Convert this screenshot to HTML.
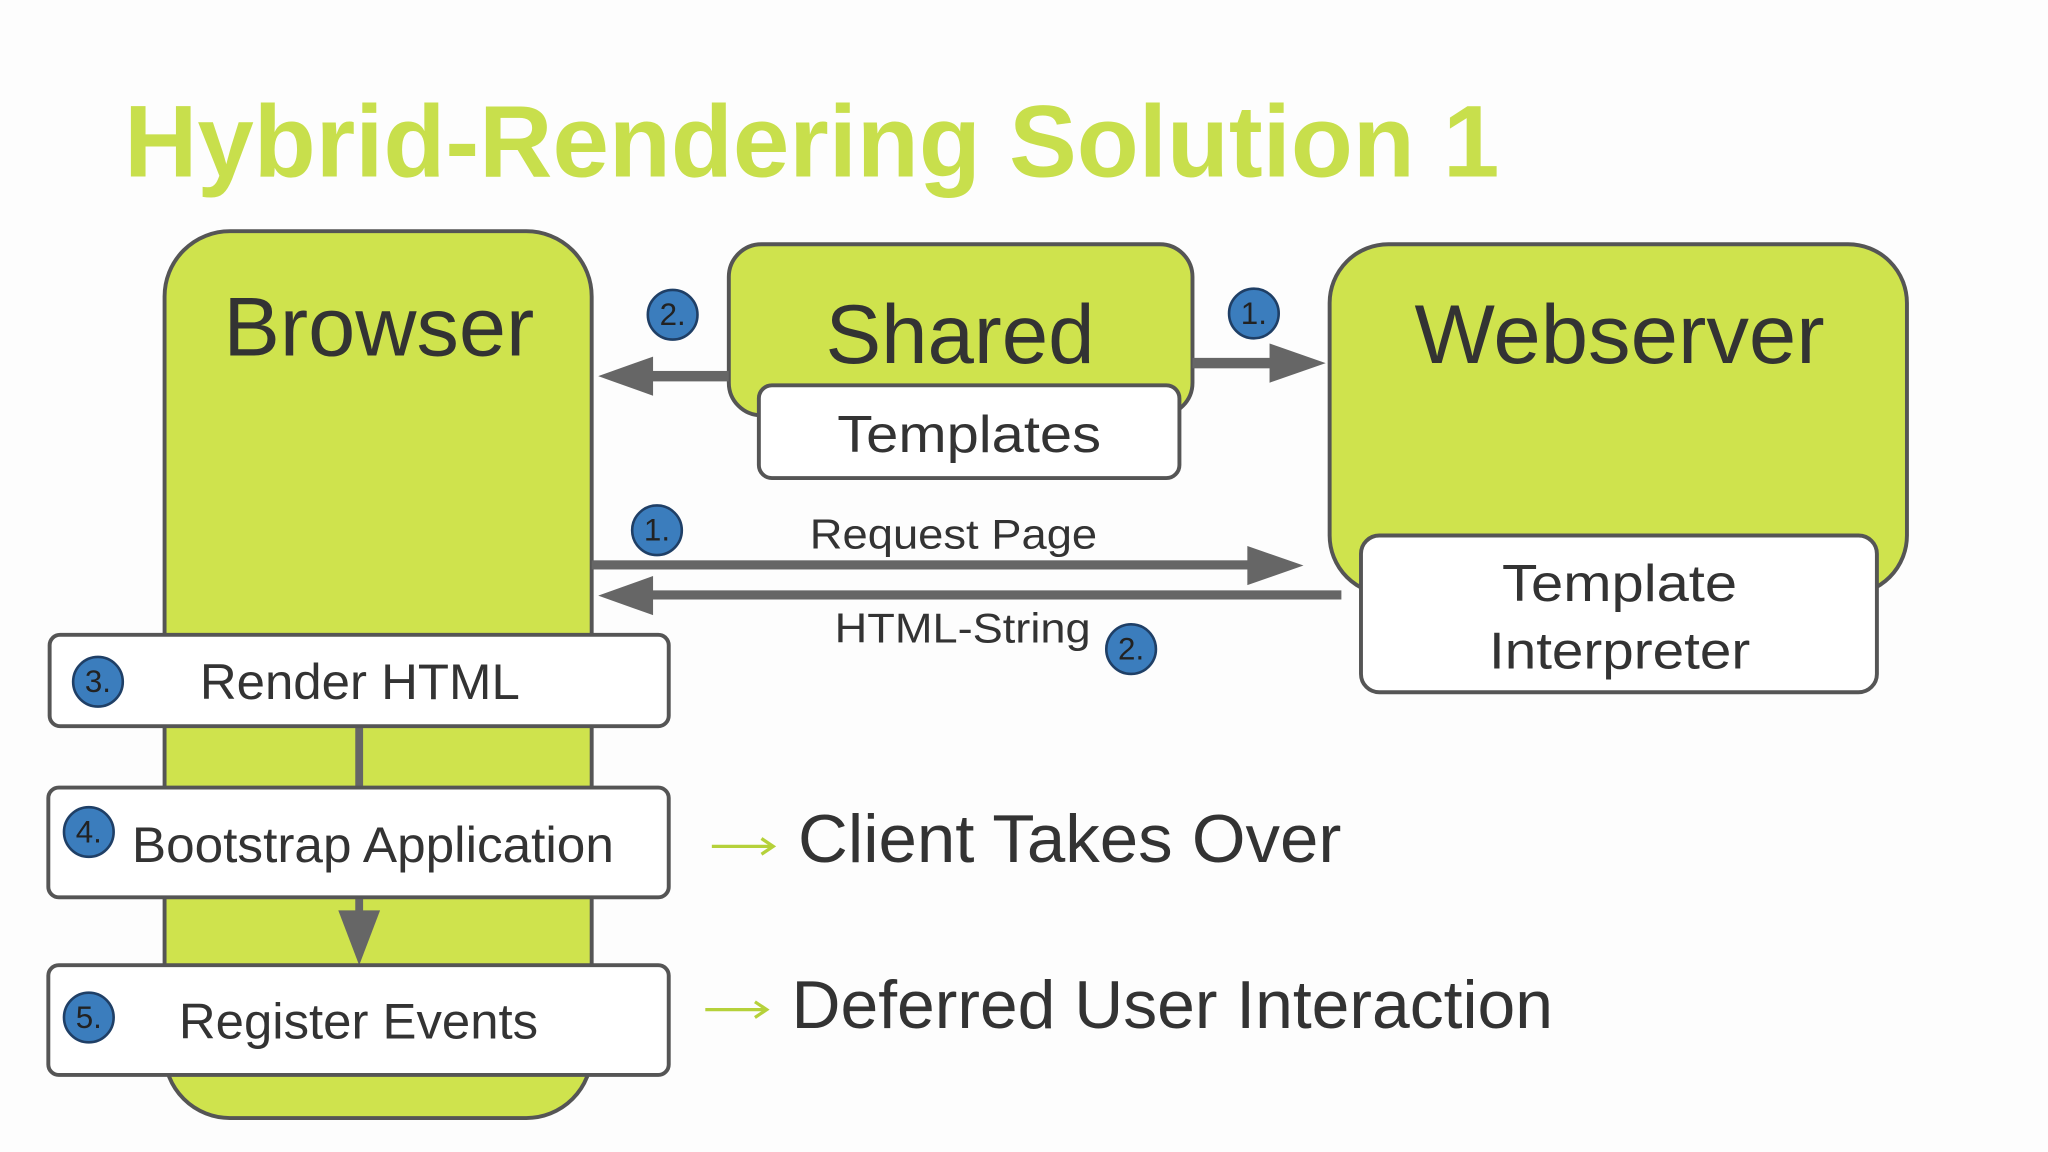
<!DOCTYPE html>
<html><head><meta charset="utf-8"><style>
html,body{margin:0;padding:0;background:#fdfdfd;}
svg{display:block;}
text{font-family:"Liberation Sans",sans-serif;}
</style></head><body>
<svg width="2048" height="1152" viewBox="0 0 1568 882" xmlns="http://www.w3.org/2000/svg">
<rect width="1568" height="882" fill="#fdfdfd"/>
<text x="95" y="135" font-size="78" font-weight="bold" fill="#c8df4c" textLength="1053" lengthAdjust="spacingAndGlyphs">Hybrid-Rendering Solution 1</text>

<!-- Browser -->
<rect x="126" y="177" width="327" height="679" rx="50" fill="#cfe34d" stroke="#555" stroke-width="3"/>
<text x="290" y="272" font-size="64" fill="#333" text-anchor="middle" textLength="238" lengthAdjust="spacingAndGlyphs">Browser</text>

<!-- Shared -->
<rect x="558" y="187" width="355" height="131" rx="25" fill="#cfe34d" stroke="#555" stroke-width="3"/>
<text x="735" y="278" font-size="64" fill="#333" text-anchor="middle" textLength="206" lengthAdjust="spacingAndGlyphs">Shared</text>
<rect x="581" y="295" width="322" height="71" rx="10" fill="#fff" stroke="#555" stroke-width="3"/>
<text x="742" y="346" font-size="40" fill="#333" text-anchor="middle" textLength="202" lengthAdjust="spacingAndGlyphs">Templates</text>

<!-- Webserver -->
<rect x="1018" y="187" width="442" height="268" rx="45" fill="#cfe34d" stroke="#555" stroke-width="3"/>
<text x="1240" y="278" font-size="64" fill="#333" text-anchor="middle" textLength="314" lengthAdjust="spacingAndGlyphs">Webserver</text>
<rect x="1042" y="410" width="395" height="120" rx="14" fill="#fff" stroke="#555" stroke-width="3"/>
<text x="1240" y="460" font-size="40" fill="#333" text-anchor="middle" textLength="180" lengthAdjust="spacingAndGlyphs">Template</text>
<text x="1240" y="512" font-size="40" fill="#333" text-anchor="middle" textLength="200" lengthAdjust="spacingAndGlyphs">Interpreter</text>

<!-- arrows -->
<g fill="#666" stroke="none">
<rect x="495" y="284" width="63" height="8"/>
<polygon points="458,288 500,273 500,303"/>
<rect x="913" y="274" width="65" height="8"/>
<polygon points="1015,278 972,263 972,293"/>
<rect x="453" y="429" width="510" height="7"/>
<polygon points="998,433 955,418 955,448"/>
<rect x="495" y="452" width="532" height="7"/>
<polygon points="458,456 500,441 500,471"/>
<rect x="272" y="556" width="6" height="47"/>
<rect x="272" y="687" width="6" height="20"/>
<polygon points="275,739 259,697 291,697"/>
</g>
<text x="730" y="420" font-size="32" fill="#333" text-anchor="middle" textLength="220" lengthAdjust="spacingAndGlyphs">Request Page</text>
<text x="737" y="492" font-size="32" fill="#333" text-anchor="middle" textLength="196" lengthAdjust="spacingAndGlyphs">HTML-String</text>

<!-- step boxes -->
<rect x="38" y="486" width="474" height="70" rx="8" fill="#fff" stroke="#555" stroke-width="3"/>
<text x="153" y="535" font-size="38" fill="#333" textLength="245" lengthAdjust="spacingAndGlyphs">Render HTML</text>
<rect x="37" y="603" width="475" height="84" rx="8" fill="#fff" stroke="#555" stroke-width="3"/>
<text x="101" y="660" font-size="38" fill="#333" textLength="369" lengthAdjust="spacingAndGlyphs">Bootstrap Application</text>
<rect x="37" y="739" width="475" height="84" rx="8" fill="#fff" stroke="#555" stroke-width="3"/>
<text x="137" y="795" font-size="38" fill="#333" textLength="275" lengthAdjust="spacingAndGlyphs">Register Events</text>

<!-- badges -->
<g font-size="24" fill="#222" text-anchor="middle">
<circle cx="515" cy="241" r="19" fill="#3b7dbd" stroke="#1f3f66" stroke-width="2"/><text x="515" y="249">2.</text>
<circle cx="960" cy="240" r="19" fill="#3b7dbd" stroke="#1f3f66" stroke-width="2"/><text x="960" y="248">1.</text>
<circle cx="503" cy="406" r="19" fill="#3b7dbd" stroke="#1f3f66" stroke-width="2"/><text x="503" y="414">1.</text>
<circle cx="866" cy="497" r="19" fill="#3b7dbd" stroke="#1f3f66" stroke-width="2"/><text x="866" y="505">2.</text>
<circle cx="75" cy="522" r="19" fill="#3b7dbd" stroke="#1f3f66" stroke-width="2"/><text x="75" y="530">3.</text>
<circle cx="68" cy="637" r="19" fill="#3b7dbd" stroke="#1f3f66" stroke-width="2"/><text x="68" y="645">4.</text>
<circle cx="68" cy="779" r="19" fill="#3b7dbd" stroke="#1f3f66" stroke-width="2"/><text x="68" y="787">5.</text>
</g>

<!-- right labels -->
<g stroke="#b5d13a" stroke-width="2.5" fill="none">
<line x1="545" y1="648" x2="591" y2="648"/><polyline points="583,642 592,648 583,654"/>
<line x1="540" y1="773" x2="586" y2="773"/><polyline points="578,767 587,773 578,779"/>
</g>
<text x="611" y="660" font-size="52" fill="#333" textLength="416" lengthAdjust="spacingAndGlyphs">Client Takes Over</text>
<text x="606" y="787" font-size="52" fill="#333" textLength="583" lengthAdjust="spacingAndGlyphs">Deferred User Interaction</text>
</svg>
</body></html>
